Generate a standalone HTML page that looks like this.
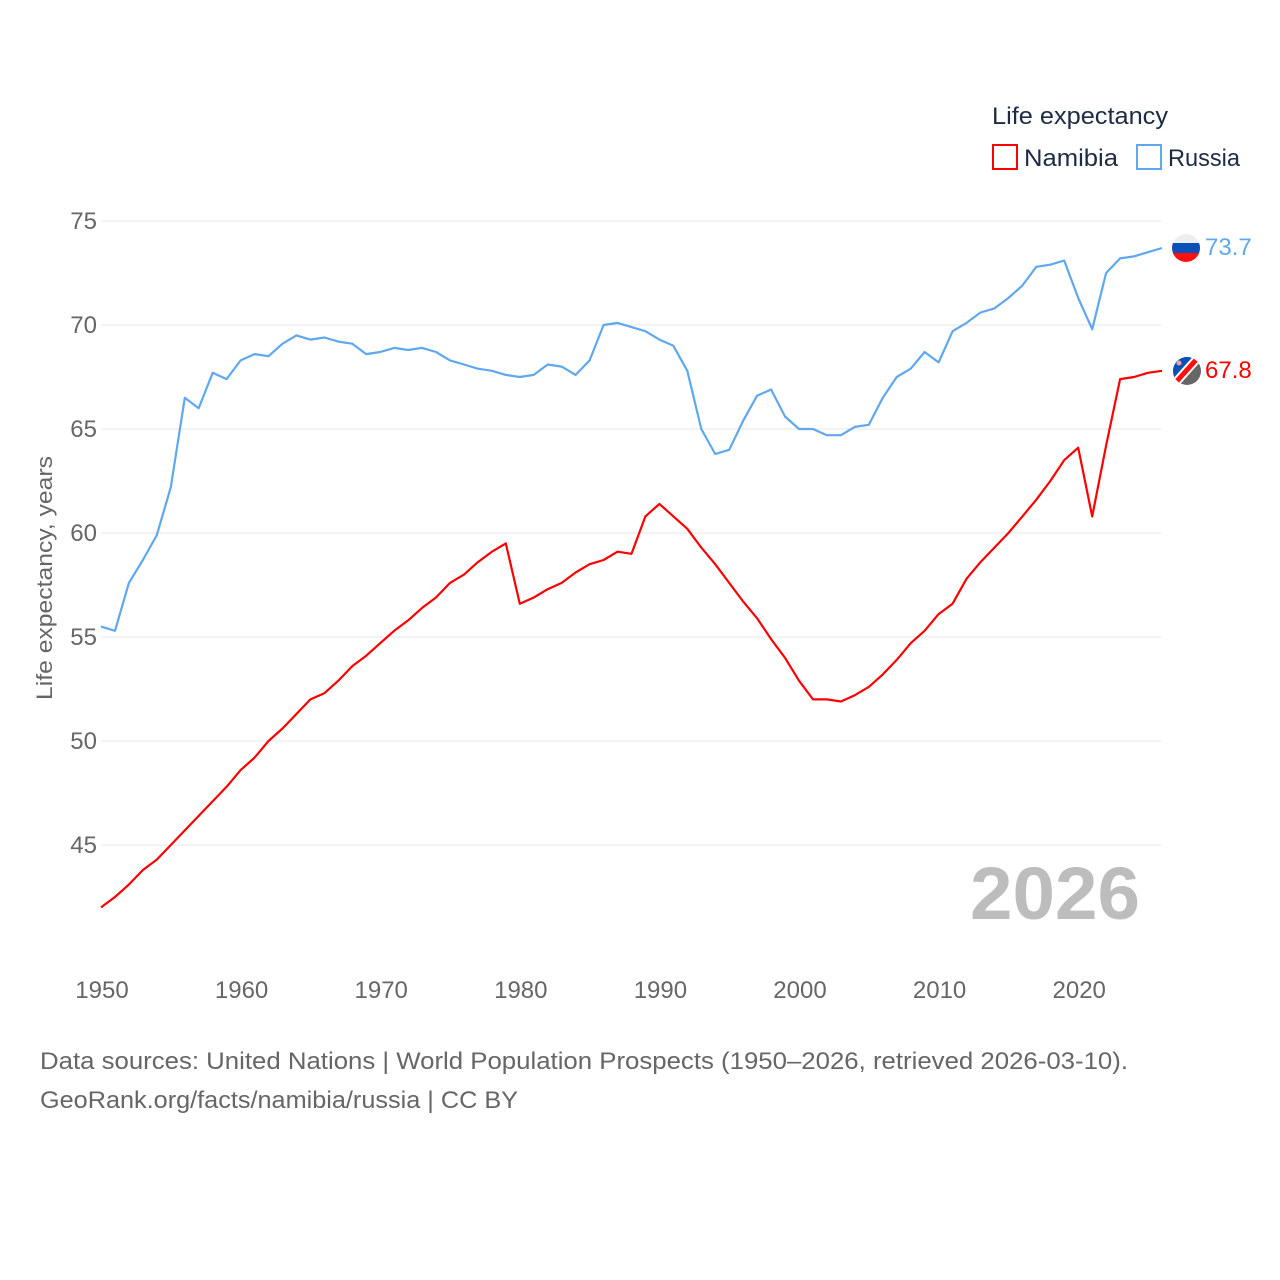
<!DOCTYPE html>
<html><head><meta charset="utf-8"><style>
html,body{margin:0;padding:0;background:#fff;width:1280px;height:1280px;overflow:hidden}
svg{display:block;font-family:"Liberation Sans",sans-serif}
</style></head><body>
<svg id="chart" width="1280" height="1280" viewBox="0 0 1280 1280">
<g id="grid"></g>
<g id="yticks"></g>
<g id="xticks"></g>
<text x="52" y="578" transform="rotate(-90 52 578)" text-anchor="middle" font-size="22" fill="#666" textLength="244" lengthAdjust="spacingAndGlyphs">Life expectancy, years</text>
<text x="970" y="919" font-size="74" font-weight="bold" fill="#bdbdbd" textLength="170" lengthAdjust="spacingAndGlyphs">2026</text>
<g id="series"></g>
<g>
<text x="992" y="124" font-size="24" fill="#1d2b45" textLength="176" lengthAdjust="spacingAndGlyphs">Life expectancy</text>
<g>
<rect x="993" y="145" width="24" height="24" fill="none" stroke="#ff0000" stroke-width="2"/>
<text x="1024" y="166" font-size="24" fill="#1d2b45" textLength="94" lengthAdjust="spacingAndGlyphs">Namibia</text></g>
<g>
<rect x="1137" y="145" width="24" height="24" fill="none" stroke="#5fa8ed" stroke-width="2"/>
<text x="1168" y="166" font-size="24" fill="#1d2b45" textLength="72" lengthAdjust="spacingAndGlyphs">Russia</text></g>
</g>
<defs>
<clipPath id="cr"><circle cx="1186" cy="248" r="14"/></clipPath>
<clipPath id="cn"><circle cx="1187" cy="371" r="14"/></clipPath>
</defs>
<g clip-path="url(#cr)">
<rect x="1170" y="232" width="32" height="32" fill="#eee"/>
<rect x="1170" y="243" width="32" height="10" fill="#0b4fb8"/>
<rect x="1170" y="253" width="32" height="12" fill="#ff1010"/>
</g>
<g clip-path="url(#cn)">
<rect x="1170" y="355" width="34" height="34" fill="#666"/>
<polygon points="1170,355 1204,355 1170,389" fill="#0b4fb8"/>
<line x1="1204" y1="351" x2="1168" y2="391" stroke="#fff" stroke-width="9"/>
<line x1="1204" y1="351" x2="1168" y2="391" stroke="#ff1010" stroke-width="5"/>
<circle cx="1179" cy="363" r="2.5" fill="#f5a0a0"/>
</g>
<text x="1205" y="255" font-size="24" fill="#5fa8ed">73.7</text>
<text x="1205" y="378" font-size="24" fill="#ff0000">67.8</text>
<text x="40" y="1069" font-size="24" fill="#666" textLength="1088" lengthAdjust="spacingAndGlyphs">Data sources: United Nations | World Population Prospects (1950–2026, retrieved 2026-03-10).</text>
<text x="40" y="1108" font-size="24" fill="#666" textLength="478" lengthAdjust="spacingAndGlyphs">GeoRank.org/facts/namibia/russia | CC BY</text>
</svg>
<script>
const years = [];
for (let y = 1950; y <= 2026; y++) years.push(y);
const russia = [55.5,55.3,57.6,58.7,59.9,62.2,66.5,66.0,67.7,67.4,68.3,68.6,68.5,69.1,69.5,69.3,69.4,69.2,69.1,68.6,68.7,68.9,68.8,68.9,68.7,68.3,68.1,67.9,67.8,67.6,67.5,67.6,68.1,68.0,67.6,68.3,70.0,70.1,69.9,69.7,69.3,69.0,67.8,65.0,63.8,64.0,65.4,66.6,66.9,65.6,65.0,65.0,64.7,64.7,65.1,65.2,66.5,67.5,67.9,68.7,68.2,69.7,70.1,70.6,70.8,71.3,71.9,72.8,72.9,73.1,71.3,69.8,72.5,73.2,73.3,73.5,73.7];
const namibia = [42.0,42.5,43.1,43.8,44.3,45.0,45.7,46.4,47.1,47.8,48.6,49.2,50.0,50.6,51.3,52.0,52.3,52.9,53.6,54.1,54.7,55.3,55.8,56.4,56.9,57.6,58.0,58.6,59.1,59.5,56.6,56.9,57.3,57.6,58.1,58.5,58.7,59.1,59.0,60.8,61.4,60.8,60.2,59.3,58.5,57.6,56.7,55.9,54.9,54.0,52.9,52.0,52.0,51.9,52.2,52.6,53.2,53.9,54.7,55.3,56.1,56.6,57.8,58.6,59.3,60.0,60.8,61.6,62.5,63.5,64.1,60.8,64.2,67.4,67.5,67.7,67.8];
const yTicks = [45,50,55,60,65,70,75];
const xTicks = [1950,1960,1970,1980,1990,2000,2010,2020];

const NS = "http://www.w3.org/2000/svg";
const xs = y => 101 + (y - 1950) * 13.96;
const ys = v => 221 + (75 - v) * 20.8;

const grid = document.getElementById('grid');
const yt = document.getElementById('yticks');
yTicks.forEach(v => {
  const l = document.createElementNS(NS, 'line');
  l.setAttribute('x1', 101); l.setAttribute('x2', 1161);
  l.setAttribute('y1', ys(v)); l.setAttribute('y2', ys(v));
  l.setAttribute('stroke', '#e6e6e6'); l.setAttribute('stroke-width', 1);
  
  
  grid.appendChild(l);
  const t = document.createElementNS(NS, 'text');
  t.setAttribute('x', 97); t.setAttribute('y', ys(v) + 8);
  t.setAttribute('text-anchor', 'end'); t.setAttribute('font-size', 24); t.setAttribute('fill', '#666');
  t.textContent = v;
  
  
  yt.appendChild(t);
});
const xt = document.getElementById('xticks');
xTicks.forEach(y => {
  const t = document.createElementNS(NS, 'text');
  t.setAttribute('x', xs(y) + 1); t.setAttribute('y', 998);
  t.setAttribute('text-anchor', 'middle'); t.setAttribute('font-size', 24); t.setAttribute('fill', '#666');
  t.textContent = y;
  
  
  xt.appendChild(t);
});
const sg = document.getElementById('series');
function line(vals, color, name) {
  const p = document.createElementNS(NS, 'polyline');
  p.setAttribute('points', vals.map((v, i) => xs(years[i]).toFixed(1) + ',' + ys(v).toFixed(1)).join(' '));
  p.setAttribute('fill', 'none'); p.setAttribute('stroke', color); p.setAttribute('stroke-width', 2.2);
  p.setAttribute('stroke-linejoin', 'round');
  
  
  sg.appendChild(p);
}
line(russia, '#5fa8ed', 'russia-line');
line(namibia, '#ff0000', 'namibia-line');
</script>
</body></html>
